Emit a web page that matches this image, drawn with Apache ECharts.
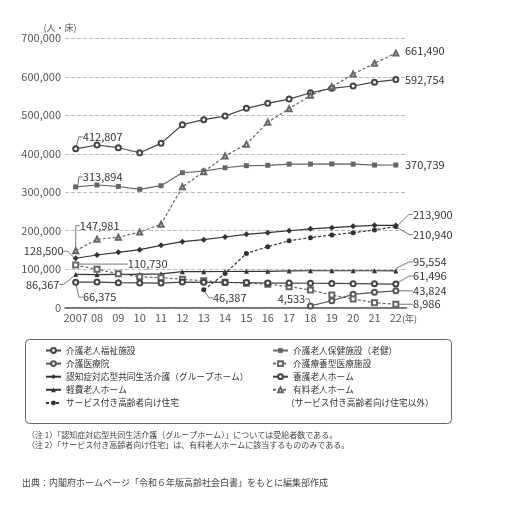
<!DOCTYPE html>
<html lang="ja">
<head>
<meta charset="UTF-8">
<title>高齢者向け施設・住まいの定員数の推移</title>
<script src="https://cdn.jsdelivr.net/npm/echarts@6/dist/echarts.min.js"></script>
<style>
  html, body { margin: 0; height: 100%; background: #fff; }
</style>
</head>
<body>
<div id="main" style="width:513px;height:531px;"></div>
<script>
const FONT = '"Noto Sans CJK JP", "Noto Sans", sans-serif';

const years = ['2007', '08', '09', '10', '11', '12', '13', '14', '15', '16', '17', '18', '19', '20', '21', '22'];
const yTicks = [0, 100000, 200000, 300000, 400000, 500000, 600000, 700000];

const fukushi   = [412807, 422700, 415700, 402700, 427000, 475500, 488500, 498000, 518000, 531000, 542000, 558600, 570000, 576000, 586000, 592754];
const rouken    = [313894, 318800, 315000, 307600, 317000, 350700, 355000, 363700, 369000, 370000, 373000, 373000, 373500, 373000, 370700, 370739];
const iryouin   = [null, null, null, null, null, null, null, null, null, null, null, 4533, 18000, 34800, 40000, 43824];
const ryouyou   = [110730, 99700, 88400, 80500, 78000, 73700, 70000, 66000, 63500, 61000, 54600, 46000, 33000, 22600, 13000, 8986];
const grouphome = [128500, 137000, 144000, 150700, 162000, 171500, 176700, 183700, 190700, 195000, 200000, 205000, 208000, 211500, 214000, 213900];
const yougo     = [66375, 66700, 65000, 64500, 64000, 66700, 66000, 65500, 65500, 64000, 64000, 63500, 63000, 62500, 62000, 61496];
const keihi     = [86367, 86000, 86400, 86800, 88000, 93500, 93500, 94000, 94500, 94500, 95500, 96000, 96000, 96000, 96000, 95554];
const yuryou    = [147981, 177700, 183000, 196700, 216700, 314000, 353000, 394000, 425000, 481600, 517000, 551700, 574000, 607000, 635000, 661490];
const sakoju    = [null, null, null, null, null, null, 46387, 89000, 141000, 158500, 174000, 182000, 189000, 195000, 202000, 210940];

// series look: [name, data, symbol, dashed, colour]
const seriesDefs = [
  ['介護老人福祉施設', fukushi, 'emptyCircle', false, '#444'],
  ['介護医療院', iryouin, 'emptyCircle', false, '#555'],
  ['認知症対応型共同生活介護（グループホーム）', grouphome, 'diamond', false, '#333'],
  ['軽費老人ホーム', keihi, 'triangle', false, '#333'],
  ['サービス付き高齢者向け住宅', sakoju, 'circle', true, '#333'],
  ['介護老人保健施設（老健）', rouken, 'rect', false, '#666'],
  ['介護療養型医療施設', ryouyou, 'emptyRect', true, '#666'],
  ['養護老人ホーム', yougo, 'emptyCircle', false, '#444'],
  ['有料老人ホーム', yuryou, 'emptyTriangle', true, '#666']
];

// value labels: series name -> [dataIndex, dx, dy, leader line]
const callouts = {
  '介護老人福祉施設': [[0, 27, -12, true], [15, 29, 0, false]],
  '介護医療院': [[11, -19, -7, true], [15, 34, 0, true]],
  '認知症対応型共同生活介護（グループホーム）': [[0, -32, -7, true], [15, 37, -11, true]],
  '軽費老人ホーム': [[0, -33, 10, true], [15, 34, -9, true]],
  'サービス付き高齢者向け住宅': [[6, 26, 8, true], [15, 37, 8, true]],
  '介護老人保健施設（老健）': [[0, 27, -10, true], [15, 29, 0, false]],
  '介護療養型医療施設': [[0, 72, -1, true], [15, 31, 0, true]],
  '養護老人ホーム': [[0, 24, 15, true], [15, 34, -8, true]],
  '有料老人ホーム': [[0, 24, -25, true], [15, 29, -2, false]]
};

const fmt = v => String(v).replace(/\B(?=(\d{3})+(?!\d))/g, ',');

const series = seriesDefs.map(([name, values, symbol, dashed, color]) => {
  const marks = callouts[name] || [];
  const data = values.map((v, i) => {
    const c = marks.find(m => m[0] === i);
    if (!c || v == null) return v;
    return {
      value: v,
      label: { show: true },
      labelLine: { show: c[3] }
    };
  });
  return {
    name: name,
    type: 'line',
    data: data,
    symbol: symbol,
    symbolSize: symbol === 'diamond' ? 6 : 5,
    showAllSymbol: true,
    connectNulls: false,
    itemStyle: { color: color, borderWidth: 1 },
    lineStyle: { color: color, width: 1.2, type: dashed ? [3, 2] : 'solid' },
    label: {
      show: false,
      position: 'inside',
      formatter: p => fmt(p.value),
      color: '#333',
      fontSize: 11,
      fontFamily: FONT
    },
    labelLine: {
      length2: 4,
      lineStyle: { color: '#555', width: 0.8 }
    },
    labelLayout: params => {
      const c = marks.find(m => m[0] === params.dataIndex);
      return c ? { dx: c[1], dy: c[2] } : {};
    },
    emphasis: { disabled: true }
  };
});

const legendBase = {
  orient: 'vertical',
  top: 346,
  padding: 0,
  itemWidth: 15,
  itemHeight: 6,
  itemGap: 4.1,
  selectedMode: false,
  textStyle: { fontSize: 8.7, lineHeight: 9, color: '#333', fontFamily: FONT }
};

const myChart = echarts.init(document.getElementById('main'), null, { renderer: 'canvas' });
const option = {
  backgroundColor: '#fff',
  animation: false,
  grid: { left: 65, right: 106.5, top: 38.3, bottom: 223.3 },
  xAxis: {
    type: 'category',
    data: years,
    boundaryGap: true,
    axisTick: { show: false },
    axisLine: { lineStyle: { color: '#555', width: 1.5 } },
    axisLabel: {
      color: '#555',
      fontSize: 11,
      fontFamily: FONT,
      margin: 5,
      interval: 0,
      formatter: v => v === '22' ? '{p|}22{n|(年)}' : v,
      rich: {
        p: { width: 15 },
        n: { width: 15, fontSize: 9, color: '#555', fontFamily: FONT }
      }
    }
  },
  yAxis: {
    type: 'value',
    min: yTicks[0],
    max: yTicks[yTicks.length - 1],
    interval: yTicks[1] - yTicks[0],
    name: '(人・床)',
    nameLocation: 'end',
    nameGap: 6,
    nameTextStyle: { color: '#555', fontSize: 9, fontFamily: FONT, padding: [0, 10, 0, 0] },
    axisLine: { show: false },
    axisTick: { show: false },
    axisLabel: { color: '#555', fontSize: 11, fontFamily: FONT, margin: 4, formatter: v => fmt(v) },
    splitLine: { lineStyle: { color: '#bbb', type: [4, 2], width: 1 } }
  },
  legend: [
    Object.assign({}, legendBase, { left: 45, data: seriesDefs.slice(0, 5).map(d => d[0]) }),
    Object.assign({}, legendBase, { left: 272, data: seriesDefs.slice(5).map(d => d[0]) })
  ],
  graphic: [
    { type: 'rect', left: 23, top: 337, shape: { width: 426, height: 84, r: 4 }, style: { fill: 'none', stroke: '#666', lineWidth: 1 } },
    { type: 'text', left: 286, top: 398, style: { text: '（サービス付き高齢者向け住宅以外）', fontSize: 8.7, fill: '#333', fontFamily: FONT } },
    { type: 'text', left: 27, top: 431, style: { text: '（注 1）「認知症対応型共同生活介護（グループホーム）」については受給者数である。', fontSize: 8, fill: '#444', fontFamily: FONT } },
    { type: 'text', left: 27, top: 441, style: { text: '（注 2）「サービス付き高齢者向け住宅」は、有料老人ホームに該当するもののみである。', fontSize: 8, fill: '#444', fontFamily: FONT } },
    { type: 'text', left: 22, top: 478, style: { text: '出典：内閣府ホームページ「令和６年版高齢社会白書」をもとに編集部作成', fontSize: 9, fill: '#444', fontFamily: FONT } }
  ],
  series: series
};

myChart.setOption(option);

window.addEventListener('resize', function () {
  myChart.resize();
});
</script>
</body>
</html>
